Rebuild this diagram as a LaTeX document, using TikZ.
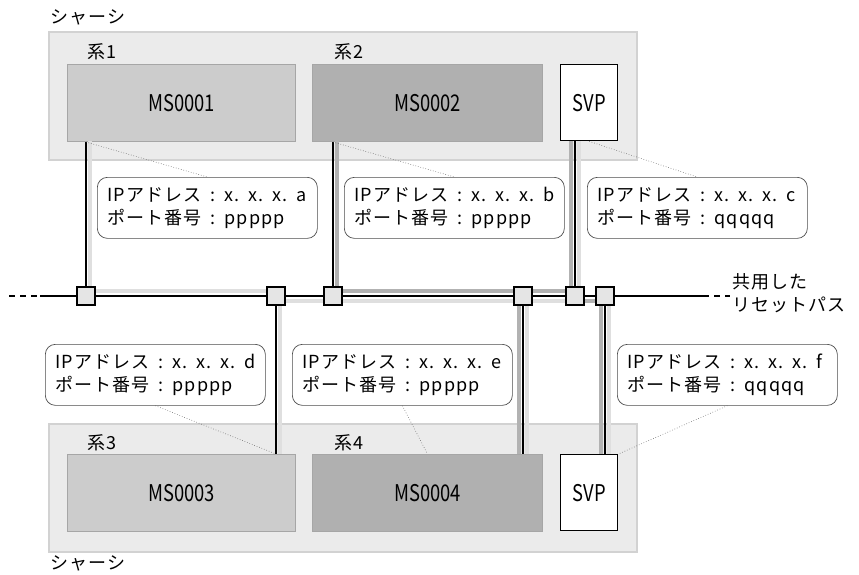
\documentclass[tikz,border=0pt]{standalone}
\usepackage{fontspec}
\setmainfont{Noto Sans CJK JP}
\newfontfamily\jpfont[LetterSpace=6]{Noto Sans CJK JP}
\newfontfamily\idfont[FakeStretch=0.8]{Noto Sans CJK JP}
\newcommand{\sep}{\enspace:\enspace}
\usepackage{tikz}
\usetikzlibrary{positioning}

\begin{document}
\begin{tikzpicture}[x=1pt,y=-1pt,
  chassis/.style={rectangle,draw=gray!35,fill=gray!16,line width=1.5pt,anchor=north west,
    minimum width=588pt,minimum height=128pt,inner sep=0pt},
  sysbox/.style={rectangle,draw=gray!70,line width=1pt,anchor=north west,
    minimum height=77pt,inner sep=0pt,font=\idfont\fontsize{23}{23}\selectfont},
  svpbox/.style={rectangle,draw,fill=white,line width=1.4pt,anchor=north west,
    minimum width=57pt,minimum height=76pt,inner sep=0pt,font=\idfont\fontsize{23}{23}\selectfont},
  port/.style={rectangle,draw,fill=gray!20,line width=1.6pt,minimum size=18pt,inner sep=0pt},
  link/.style={line width=1.8pt},
  bandlt/.style={draw=gray!25,line width=4.5pt},
  banddk/.style={draw=gray!60,line width=4.5pt},
  leader/.style={dotted,draw=gray!80!black,line width=0.6pt},
  callout/.style={rectangle,rounded corners=10pt,draw=black!70,fill=white,line width=0.7pt,
    anchor=north west,text width=200pt,inner xsep=10pt,inner ysep=0pt,minimum height=61pt,
    align=left,font=\jpfont\fontsize{18}{23}\selectfont},
  lbl/.style={anchor=west,inner sep=0pt,font=\jpfont\fontsize{18}{23}\selectfont}]
  \useasboundingbox (0,0) rectangle (859,574);

  % chassis and systems
  \node[chassis] (ch1) at (48,31) {};
  \node[chassis] (ch2) at (48,423) {};
  \node[lbl] (t1) at (50,17) {シャーシ};
  \node[lbl] (t2) at (50,563) {シャーシ};
  \node[sysbox,fill=gray!40,minimum width=228pt] (ms1) at (67,64) {MS0001};
  \node[sysbox,fill=gray!62,minimum width=230pt] (ms2) at (312,64) {MS0002};
  \node[svpbox] (svp1) at (560,64) {SVP};
  \node[sysbox,fill=gray!40,minimum width=228pt] (ms3) at (67,454) {MS0003};
  \node[sysbox,fill=gray!62,minimum width=230pt] (ms4) at (312,454) {MS0004};
  \node[svpbox] (svp2) at (560,454) {SVP};
  \node[lbl] (k1) at (87,52) {系1};
  \node[lbl] (k2) at (334,52) {系2};
  \node[lbl] (k3) at (87,443) {系3};
  \node[lbl] (k4) at (334,443) {系4};

  % ports on the reset path
  \node[port] (p1) at (86,296) {};
  \node[port] (p3) at (276,296) {};
  \node[port] (p2) at (333,296) {};
  \node[port] (p4) at (523,296) {};
  \node[port] (ps1) at (575,296) {};
  \node[port] (ps2) at (605,296) {};
  \coordinate (lw) at (9,296);
  \coordinate (lw2) at (40,296);
  \coordinate (le2) at (703,296);
  \coordinate (le) at (730,296);

  % shaded routes
  \draw[bandlt] (90,141) -- (90,291) -- (280,291) -- (280,454);
  \draw[bandlt] (280,301) -- (575,301);
  \draw[bandlt] (527,301) -- (527,454);
  \draw[bandlt] (579,141) -- (579,291);
  \draw[bandlt] (609,301) -- (609,454);
  \draw[banddk] (337,141) -- (337,291) -- (571,291) -- (571,141);
  \draw[banddk] (519,291) -- (519,454);
  \draw[banddk] (575,301) -- (601,301) -- (601,454);

  % reset path
  \draw[link,dash pattern=on 6pt off 5pt] (lw) -- (lw2);
  \draw[link] (lw2) -- (le2);
  \draw[link,dash pattern=on 6pt off 5pt] (le2) -- (le);
  \draw[link] (p1 |- ms1.south) -- (p1);
  \draw[link] (p2 |- ms2.south) -- (p2);
  \draw[link] (ps1 |- svp1.south) -- (ps1);
  \draw[link] (p3) -- (p3 |- ms3.north);
  \draw[link] (p4) -- (p4 |- ms4.north);
  \draw[link] (ps2) -- (ps2 |- svp2.north);
  \foreach \p in {p1,p3,p2,p4,ps1,ps2}
    \node[port] at (\p) {};
  \node[anchor=north west,inner sep=0pt,align=left,font=\jpfont\fontsize{18}{23}\selectfont]
    (rp) at (732,273) {共用した\\リセットパス};

  % address callouts
  \node[callout] (ca) at (97,177) {IPアドレス\sep x.\enspace x.\enspace x.\enspace a\\ポート番号\sep ppppp};
  \node[callout] (cb) at (344,177) {IPアドレス\sep x.\enspace x.\enspace x.\enspace b\\ポート番号\sep ppppp};
  \node[callout] (cc) at (587,177) {IPアドレス\sep x.\enspace x.\enspace x.\enspace c\\ポート番号\sep qqqqq};
  \node[callout] (cd) at (45,344) {IPアドレス\sep x.\enspace x.\enspace x.\enspace d\\ポート番号\sep ppppp};
  \node[callout] (ce) at (292,344) {IPアドレス\sep x.\enspace x.\enspace x.\enspace e\\ポート番号\sep ppppp};
  \node[callout] (cf) at (617,344) {IPアドレス\sep x.\enspace x.\enspace x.\enspace f\\ポート番号\sep qqqqq};
  \draw[leader] (p1 |- ms1.south) -- (ca.north);
  \draw[leader] (p2 |- ms2.south) -- (cb.north);
  \draw[leader] (svp1.south) -- (cc.north);
  \draw[leader] (cd.south) -- (p3 |- ms3.north);
  \draw[leader] (ce.south) -- (ms4.north);
  \draw[leader] (cf.south) -- (svp2.north east);
\end{tikzpicture}
\end{document}
